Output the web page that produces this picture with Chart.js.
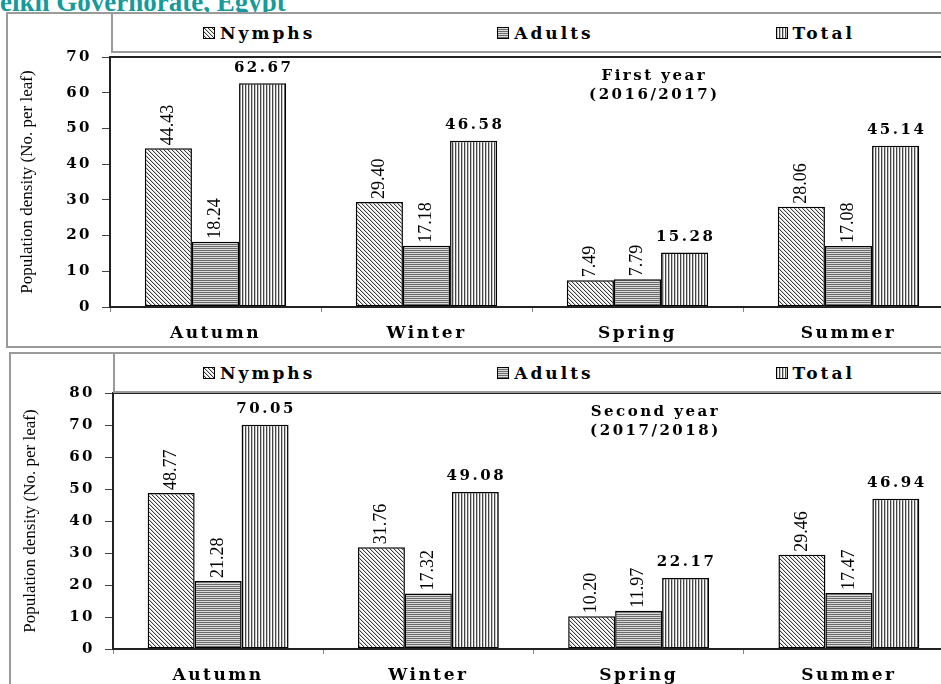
<!DOCTYPE html>
<html>
<head>
<meta charset="utf-8">
<script src="https://cdn.jsdelivr.net/npm/chart.js@4.4.1/dist/chart.umd.min.js"></script>
<style>
  html, body { margin: 0; padding: 0; width: 941px; height: 684px; overflow: hidden; background: #fff; }
  .caption { position: absolute; left: 0; top: -13px; line-height: 26px; font: bold 27px "Liberation Serif", serif; color: #169a9b; white-space: nowrap; }
  .frame { position: absolute; border: 2px solid #9a9a9a; background: #fff; }
  .frame canvas { position: absolute; left: 0; top: 0; }
  .legend { position: absolute; box-sizing: border-box; border: 2px solid #9a9a9a; background: #fff;
            display: flex; align-items: center; gap: 182px; height: 41px; width: 850px;
            font: bold 17px "DejaVu Serif", serif; letter-spacing: 3px; color: #000; }
  .legend .item { display: flex; align-items: center; white-space: nowrap; }
  .legend canvas { margin-right: 5px; }
</style>
</head>
<body>
<div class="caption" id="caption"></div>
<div class="frame" style="left:6px; top:12px; width:960px; height:332px;"><canvas id="year1" width="960" height="332"></canvas></div>
<div class="legend" id="legend1" style="left:111px; top:12px; padding-left:90px;"></div>
<div class="frame" style="left:9px; top:352px; width:960px; height:334px;"><canvas id="year2" width="960" height="334"></canvas></div>
<div class="legend" id="legend2" style="left:113px; top:352px; padding-left:88px;"></div>

<script>
// data
const seasons = ['Autumn', 'Winter', 'Spring', 'Summer'];
const seriesNames = ['Nymphs', 'Adults', 'Total'];

const nymphs1 = [44.43, 29.40, 7.49, 28.06];
const adults1 = [18.24, 17.18, 7.79, 17.08];
const total1 = [62.67, 46.58, 15.28, 45.14];

const nymphs2 = [48.77, 31.76, 10.20, 29.46];
const adults2 = [21.28, 17.32, 11.97, 17.47];
const total2 = [70.05, 49.08, 22.17, 46.94];

const yMax1 = 70;
const yMax2 = 80;
const yStep = 10;
const yTitle = 'Population density (No. per leaf)';
const note1 = ['First year', '(2016/2017)'];
const note2 = ['Second year', '(2017/2018)'];
const captionText = 'eikh Governorate, Egypt';

document.getElementById('caption').textContent = captionText;

// fill patterns (diagonal / horizontal / vertical hatching)
function makePattern(kind) {
  const c = document.createElement('canvas');
  const g = c.getContext('2d');
  if (kind === 'diag') {
    c.width = 4; c.height = 4;
    g.fillStyle = '#fff'; g.fillRect(0, 0, 4, 4);
    for (let i = 0; i < 4; i++) {
      g.fillStyle = '#3a3a3a'; g.fillRect(i, i, 1, 1);
      g.fillStyle = '#d0d0d0'; g.fillRect((i + 1) % 4, i, 1, 1);
    }
  } else if (kind === 'horiz') {
    c.width = 1; c.height = 2;
    g.fillStyle = '#6a6a6a'; g.fillRect(0, 0, 1, 1);
    g.fillStyle = '#dadada'; g.fillRect(0, 1, 1, 1);
  } else {
    c.width = 3; c.height = 1;
    g.fillStyle = '#444'; g.fillRect(0, 0, 1, 1);
    g.fillStyle = '#c4c4c4'; g.fillRect(1, 0, 1, 1);
    g.fillStyle = '#fff'; g.fillRect(2, 0, 1, 1);
  }
  return g.createPattern(c, 'repeat');
}
const fills = [makePattern('diag'), makePattern('horiz'), makePattern('vert')];

// html legend with the same patterns
function buildLegend(id) {
  const box = document.getElementById(id);
  seriesNames.forEach((name, i) => {
    const item = document.createElement('span');
    item.className = 'item';
    const icon = document.createElement('canvas');
    icon.width = 12; icon.height = 12;
    const g = icon.getContext('2d');
    g.fillStyle = fills[i];
    g.fillRect(0, 0, 12, 12);
    g.strokeStyle = '#000';
    g.lineWidth = 1;
    g.strokeRect(0.5, 0.5, 11, 11);
    item.appendChild(icon);
    item.appendChild(document.createTextNode(name));
    box.appendChild(item);
  });
}
buildLegend('legend1');
buildLegend('legend2');

// value labels: rotated for Nymphs/Adults, horizontal for Total
const valueLabels = {
  id: 'valueLabels',
  afterDatasetsDraw(chart) {
    const ctx = chart.ctx;
    chart.data.datasets.forEach((ds, i) => {
      chart.getDatasetMeta(i).data.forEach((bar, j) => {
        const txt = ds.data[j].toFixed(2);
        ctx.save();
        ctx.fillStyle = '#000';
        if (i < 2) {
          ctx.letterSpacing = '0px';
          ctx.font = '18px "Liberation Serif"';
          ctx.translate(bar.x, bar.y - 3);
          ctx.rotate(-Math.PI / 2);
          ctx.textAlign = 'left';
          ctx.textBaseline = 'middle';
          ctx.fillText(txt, 0, 0);
        } else {
          ctx.letterSpacing = '2.5px';
          ctx.font = 'bold 15px "DejaVu Serif"';
          ctx.textAlign = 'center';
          ctx.textBaseline = 'bottom';
          ctx.fillText(txt, bar.x + 1, bar.y - 8);
        }
        ctx.restore();
      });
    });
  }
};

// wide-spaced tick labels (ticks are drawn after datasets, title before)
const tickSpacing = {
  id: 'tickSpacing',
  beforeDraw(chart) { chart.ctx.letterSpacing = '0px'; },
  afterDatasetsDraw(chart) { chart.ctx.letterSpacing = '2.5px'; },
  afterDraw(chart) { chart.ctx.letterSpacing = '0px'; }
};

// plot frame + year note
const plotFrame = {
  id: 'plotFrame',
  afterDraw(chart, args, opts) {
    const ctx = chart.ctx;
    const a = chart.chartArea;
    ctx.save();
    ctx.strokeStyle = '#222';
    ctx.lineWidth = 2;
    ctx.strokeRect(a.left, a.top, a.right - a.left, a.bottom - a.top);
    ctx.fillStyle = '#000';
    ctx.font = 'bold 15px "DejaVu Serif"';
    ctx.letterSpacing = '2.5px';
    ctx.textAlign = 'center';
    ctx.textBaseline = 'middle';
    const x = a.left + 0.645 * (a.right - a.left);
    (opts.lines || []).forEach((line, k) => {
      ctx.fillText(line, x, a.top + 19 + k * 19);
    });
    ctx.restore();
  }
};

function makeChart(id, nymphs, adults, total, yMax, note, padTop, padRight) {
  return new Chart(document.getElementById(id), {
    type: 'bar',
    data: {
      labels: seasons,
      datasets: [nymphs, adults, total].map((vals, i) => ({
        label: seriesNames[i],
        data: vals,
        backgroundColor: fills[i],
        borderColor: '#000',
        borderWidth: 1.5,
        borderSkipped: false,
        barPercentage: 1,
        categoryPercentage: 0.67
      }))
    },
    options: {
      responsive: false,
      animation: false,
      devicePixelRatio: 1,
      layout: { padding: { top: padTop, right: padRight, left: 0, bottom: 0 } },
      scales: {
        x: {
          afterFit: s => { s.height = 39; },
          grid: { offset: true, drawOnChartArea: false, tickLength: 5, color: '#888' },
          border: { display: true, color: '#111', width: 2 },
          ticks: { z: 1, color: '#000', padding: 11, font: { family: 'DejaVu Serif', weight: 'bold', size: 17 } }
        },
        y: {
          min: 0,
          max: yMax,
          afterFit: s => { s.width = 102; },
          grid: { drawOnChartArea: false, tickLength: 8, color: '#444' },
          border: { display: true, color: '#111', width: 2 },
          ticks: { z: 1, stepSize: yStep, color: '#000', padding: 10, font: { family: 'DejaVu Serif', weight: 'bold', size: 15 } },
          title: {
            display: true,
            text: yTitle,
            color: '#000',
            padding: { top: 9, bottom: 0 },
            font: { family: '"Liberation Serif", serif', size: 17 }
          }
        }
      },
      plugins: {
        legend: { display: false },
        tooltip: { enabled: false },
        plotFrame: { lines: note }
      }
    },
    plugins: [tickSpacing, valueLabels, plotFrame]
  });
}

makeChart('year1', nymphs1, adults1, total1, yMax1, note1, 43, 14);
makeChart('year2', nymphs2, adults2, total2, yMax2, note2, 39, 17);
</script>
</body>
</html>
